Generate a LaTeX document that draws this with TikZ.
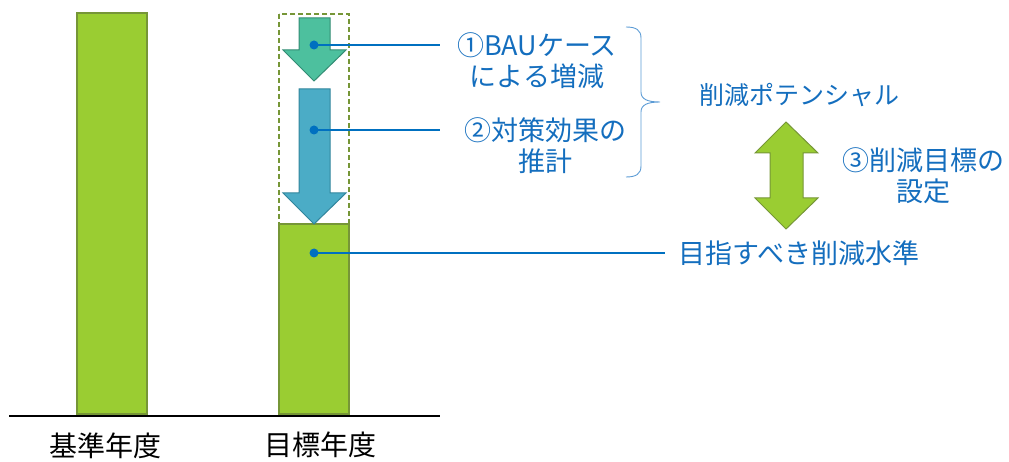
\documentclass[tikz,border=0pt]{standalone}
\usepackage{fontspec}
\setmainfont{Noto Sans CJK JP}
\definecolor{barg}{RGB}{154,205,50}
\definecolor{bargd}{RGB}{118,150,55}
\definecolor{teal1}{RGB}{77,192,158}
\definecolor{teal1d}{RGB}{50,140,115}
\definecolor{blue2}{RGB}{75,172,198}
\definecolor{blue2d}{RGB}{49,133,156}
\definecolor{lineb}{RGB}{0,112,192}
\definecolor{txtb}{RGB}{20,110,190}
\definecolor{braceb}{RGB}{91,155,213}
\tikzset{
  bar/.style={fill=barg, draw=bargd, line width=1.2pt},
  dot/.style={circle, fill=lineb, inner sep=0pt, minimum size=9pt},
  conn/.style={draw=lineb, line width=2pt},
  lbl/.style={text=txtb, font=\fontsize{27}{31}\selectfont, align=center, inner sep=0pt},
  axlbl/.style={text=black, font=\fontsize{28}{31}\selectfont, inner sep=0pt}
}
\begin{document}
\begin{tikzpicture}[x=1pt,y=-1pt]
\useasboundingbox (0,0) rectangle (1009,462);
% bars
\draw[bar] (77,13) rectangle (147,414);
\draw[bar] (279,224) rectangle (349,414);
% baseline
\draw[line width=2.2pt] (9,416) -- (440,416);
% dashed box
\draw[bargd, line width=1.2pt, dash pattern=on 5pt off 3pt] (279,14) rectangle (349,224);
% arrows
\draw[fill=teal1, draw=teal1d, line width=1pt] (299,18) -- (330,18) -- (330,50) -- (346,50) -- (314,81) -- (283,50) -- (299,50) -- cycle;
\draw[fill=blue2, draw=blue2d, line width=1pt] (299,89) -- (330,89) -- (330,193) -- (346,193) -- (314,224) -- (283,193) -- (299,193) -- cycle;
% dots and connectors
\node[dot] (d1) at (314,45) {};
\node[dot] (d2) at (314,130) {};
\node[dot] (d3) at (314,253) {};
\coordinate (e1) at (440,45);
\coordinate (e2) at (440,130);
\coordinate (e3) at (665,253);
\draw[conn] (d1.center) -- (e1);
\draw[conn] (d2.center) -- (e2);
\draw[conn] (d3.center) -- (e3);
% labels
\node[lbl] (t1) at (537,61) {①BAUケース\\による増減};
\node[lbl] (t2) at (545,146) {②対策効果の\\推計};
\node[lbl, anchor=west] (t3) at (678,253) {目指すべき削減水準};
\node[lbl, font=\fontsize{25}{31}\selectfont] (t4) at (799,95) {削減ポテンシャル};
\node[lbl] (t5) at (923,176) {③削減目標の\\設定};
\node[axlbl] (b1) at (105,446) {基準年度};
\node[axlbl] (b2) at (320,445) {目標年度};
% brace
\draw[braceb, line width=0.9pt] (626,27) .. controls (636,27) and (641,30) .. (641,38) -- (641,92) .. controls (641,99) and (647,102) .. (660,102) .. controls (647,102) and (641,105) .. (641,112) -- (641,166) .. controls (641,174) and (636,177) .. (626,177);
% double arrow
\draw[fill=barg, draw=bargd, line width=1pt] (786,122) -- (818,153) -- (803,153) -- (803,198) -- (818,198) -- (786,229) -- (755,198) -- (770,198) -- (770,153) -- (755,153) -- cycle;
\end{tikzpicture}
\end{document}
